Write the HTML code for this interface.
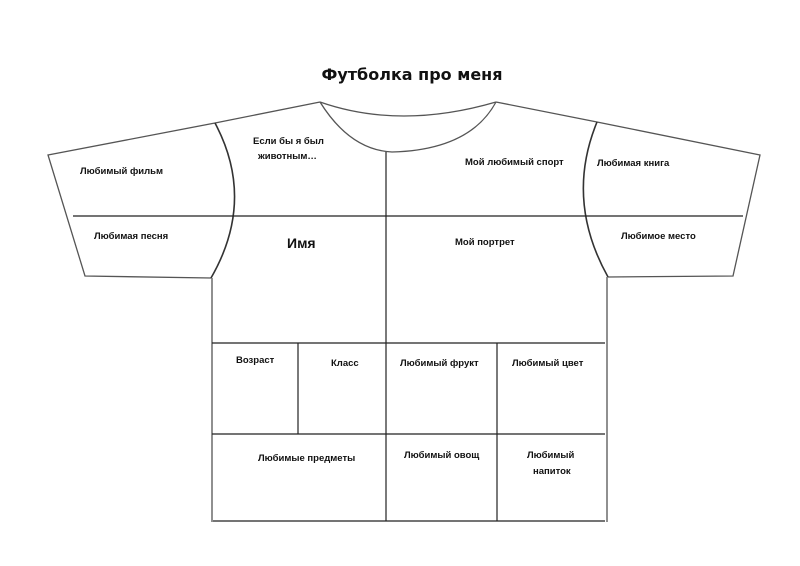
<!DOCTYPE html>
<html><head><meta charset="utf-8"><style>
html,body{margin:0;padding:0;background:#fff;}
svg{display:block;}
text{font-family:"Liberation Sans","DejaVu Sans",sans-serif;font-weight:bold;fill:#111;}
</style></head><body>
<svg width="800" height="566" viewBox="0 0 800 566" xmlns="http://www.w3.org/2000/svg">
<g fill="none" stroke="#555" stroke-width="1.3">
<!-- left shoulder & sleeve -->
<polyline points="320,102 215,123 48,155 85,276 211,278"/>
<!-- right shoulder & sleeve -->
<polyline points="496,102 597,122 760,155 733,276 608,277"/>
<!-- neck -->
<path d="M320,102 Q400,130 496,102"/>
<path d="M320,102 Q350,150 392,152 Q470,150 496,102"/>
<!-- body sides -->
<line x1="212" y1="278" x2="212" y2="522"/>
<line x1="607" y1="277" x2="607" y2="522"/>
</g>
<g fill="none" stroke="#333" stroke-width="1.6">
<path d="M215,123 Q256,200 211,278"/>
<path d="M597,122 Q565,200 608,277"/>
</g>
<g stroke="#222" stroke-width="1.2">
<line x1="73" y1="216" x2="743" y2="216"/>
<line x1="386" y1="152" x2="386" y2="521"/>
<line x1="212" y1="343" x2="605" y2="343"/>
<line x1="212" y1="434" x2="605" y2="434"/>
<line x1="213" y1="521" x2="605" y2="521"/>
<line x1="298" y1="343" x2="298" y2="434"/>
<line x1="497" y1="343" x2="497" y2="521"/>
</g>
<text x="412" y="80" font-size="16" text-anchor="middle" style="font-family:'DejaVu Sans',sans-serif">Футболка про меня</text>
<g font-size="9.5">
<text x="80" y="174">Любимый фильм</text>
<text x="94" y="239">Любимая песня</text>
<text x="253" y="144">Если бы я был</text>
<text x="258" y="159">животным…</text>
<text x="465" y="165">Мой любимый спорт</text>
<text x="597" y="166">Любимая  книга</text>
<text x="621" y="239">Любимое место</text>
<text x="455" y="245">Мой портрет</text>
<text x="236" y="363">Возраст</text>
<text x="331" y="366">Класс</text>
<text x="400" y="366">Любимый фрукт</text>
<text x="512" y="366">Любимый цвет</text>
<text x="258" y="461">Любимые предметы</text>
<text x="404" y="458">Любимый овощ</text>
<text x="527" y="458">Любимый</text>
<text x="533" y="474">напиток</text>
</g>
<text x="287" y="248" font-size="14">Имя</text>
</svg>
</body></html>
